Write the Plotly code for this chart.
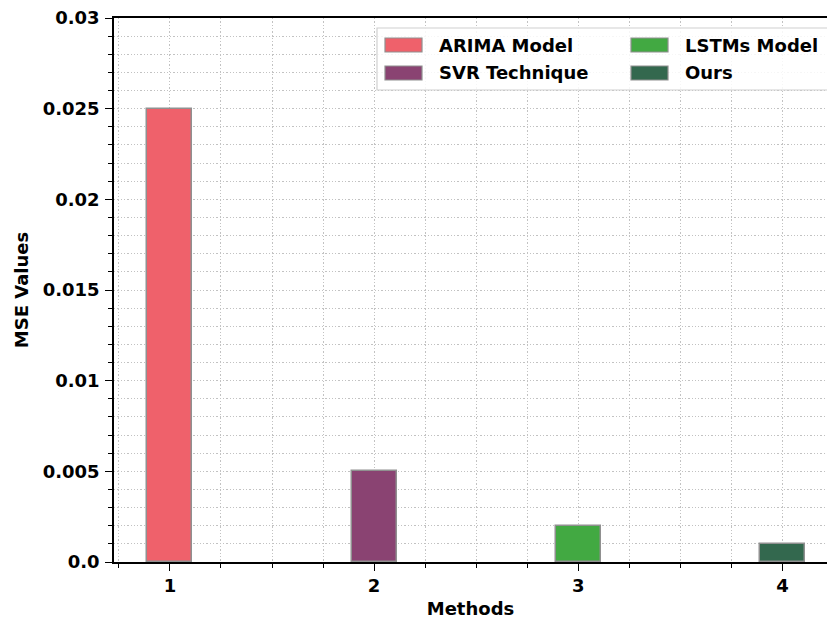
import plotly.graph_objects as go

# Mean squared error of each forecasting method
methods = ["ARIMA Model", "SVR Technique", "LSTMs Model", "Ours"]
positions = [1, 2, 3, 4]
mse_values = [0.025, 0.005, 0.002, 0.001]
colors = ["#EF616B", "#8A4372", "#42A942", "#33684E"]

y_tickvals = [0.0, 0.005, 0.01, 0.015, 0.02, 0.025, 0.03]
y_ticktext = ["0.0", "0.005", "0.01", "0.015", "0.02", "0.025", "0.03"]
x_tickvals = [1, 2, 3, 4]
x_ticktext = ["1", "2", "3", "4"]

W, H = 827, 619
ML, MT, MB, MR = 114, 18, 57, 0
FONT = "DejaVu Sans"
FS = 18
GRID = dict(gridcolor="#c2c2c2", griddash="1.3px,2px", gridwidth=1)

fig = go.Figure()
for name, xpos, val, col in zip(methods, positions, mse_values, colors):
    fig.add_trace(go.Bar(
        x=[xpos], y=[val], name=name, width=0.22,
        marker=dict(color=col, line=dict(color="#909090", width=1.5)),
        showlegend=False,
    ))

# pixel -> paper helpers for the hand-built legend
pw, ph = W - ML - MR, H - MT - MB
def px(x):
    return (x - ML) / pw
def py(y):
    return (H - MB - y) / ph

shapes = [dict(type="rect", xref="paper", yref="paper",
               x0=px(377), x1=px(900), y0=py(90), y1=py(28),
               line=dict(color="#d0d0d0", width=1.2),
               fillcolor="rgba(255,255,255,0.85)", layer="above")]
annotations = []
cols_x = [(385, 437), (631, 683)]
rows_y = [(38, 52), (66, 80)]
order = [(0, 0), (1, 0), (0, 1), (1, 1)]  # (row, col) for each method
for (r, c), name, col in zip(order, methods, colors):
    sx, tx = cols_x[c]
    y0, y1 = rows_y[r]
    shapes.append(dict(type="rect", xref="paper", yref="paper",
                       x0=px(sx), x1=px(sx + 37), y0=py(y1), y1=py(y0),
                       fillcolor=col, line=dict(color="#909090", width=1.2),
                       layer="above"))
    annotations.append(dict(xref="paper", yref="paper", x=px(tx), y=py((y0 + y1) / 2),
                            text="<b>%s</b>" % name, showarrow=False,
                            xanchor="left", yanchor="middle",
                            font=dict(family=FONT, size=FS, color="black")))

fig.update_layout(
    width=W, height=H,
    margin=dict(l=ML, r=MR, t=MT, b=MB, pad=0),
    plot_bgcolor="white", paper_bgcolor="white",
    barmode="overlay", bargap=0,
    font=dict(family=FONT, size=FS, color="black"),
    shapes=shapes, annotations=annotations,
    xaxis=dict(
        range=[0.726, 4.218],
        tickvals=x_tickvals, ticktext=["<b>%s</b>" % t for t in x_ticktext],
        ticks="outside", ticklen=7, tickwidth=1.3, tickcolor="black",
        showline=True, linecolor="black", linewidth=1.5, mirror=True,
        showgrid=True, zeroline=False, **GRID,
        minor=dict(dtick=0.25, tick0=0, ticks="outside", ticklen=4, tickwidth=1,
                   tickcolor="black", showgrid=True, **GRID),
        title=dict(text="<b>Methods</b>", font=dict(size=FS), standoff=10),
    ),
    yaxis=dict(
        range=[0, 0.03],
        tickvals=y_tickvals, ticktext=["<b>%s</b>" % t for t in y_ticktext],
        ticks="outside", ticklen=7, tickwidth=1.3, tickcolor="black",
        ticklabelstandoff=2,
        showline=True, linecolor="black", linewidth=1.5,
        showgrid=True, zeroline=False, **GRID,
        minor=dict(dtick=0.001, tick0=0, ticks="outside", ticklen=4, tickwidth=1,
                   tickcolor="black", showgrid=True, **GRID),
        title=dict(text="<b>MSE Values</b>", font=dict(size=FS), standoff=9),
    ),
)

fig.write_html("out.html")
